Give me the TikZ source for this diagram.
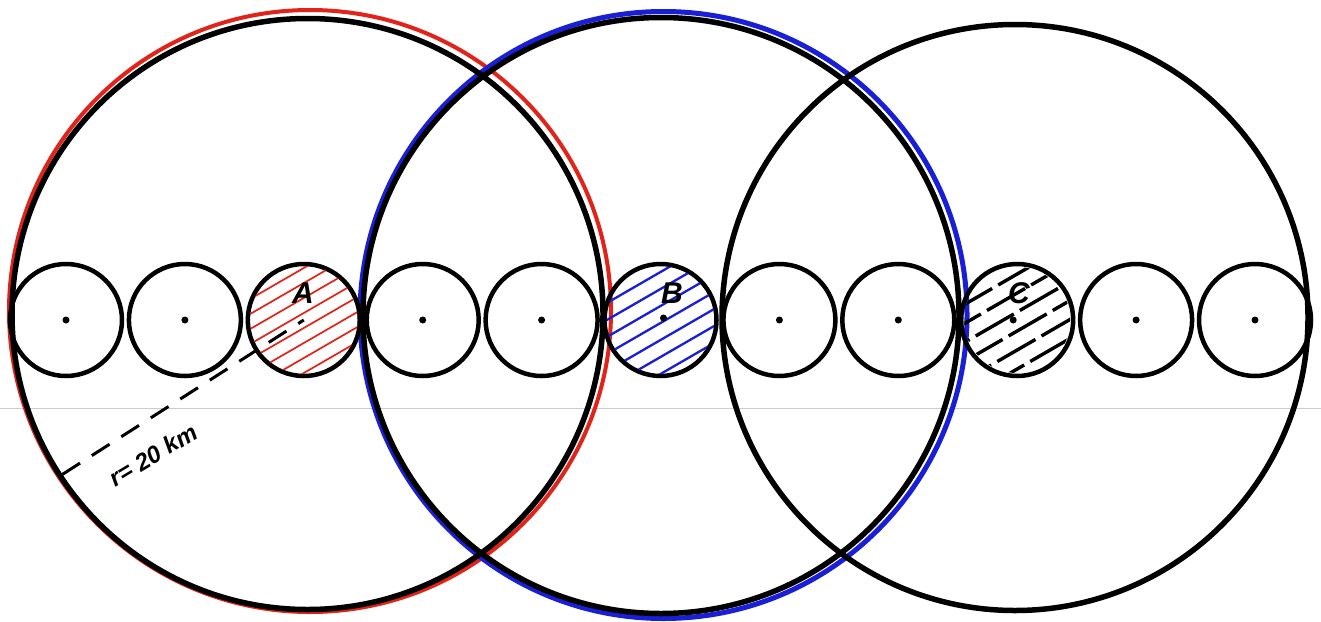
\documentclass[tikz,border=0pt]{standalone}
\usepackage{fontspec}
\setmainfont{Liberation Sans}
\usetikzlibrary{calc}
\definecolor{penred}{RGB}{225,35,25}
\definecolor{penblue}{RGB}{25,30,215}
\begin{document}
\begin{tikzpicture}[x=1pt,y=-1pt,
  big/.style={circle, draw, line width=5.5pt, inner sep=0pt},
  redring/.style={circle, draw=penred, line width=4pt, inner sep=0pt},
  bluering/.style={circle, draw=penblue, line width=5pt, inner sep=0pt},
  small/.style={circle, draw, line width=4.5pt, minimum size=112pt, inner sep=0pt},
  cdot/.style={circle, fill, inner sep=0pt, minimum size=7pt},
  lbl/.style={font=\fontsize{30}{30}\selectfont\bfseries\itshape},
  hatchA/.style={penred, line width=1.7pt},
  hatchB/.style={penblue, line width=2.3pt},
  hatchC/.style={black, line width=3.4pt, dash pattern=on 44pt off 7pt},
  radline/.style={line width=3pt, dash pattern=on 21pt off 14pt}]
\useasboundingbox (0,0) rectangle (1321,621);
\fill[white] (0,0) rectangle (1321,621);
\draw[gray!40, line width=1pt] (0,408) -- (1321,408);
% coloured rings
\node[redring, minimum size=602pt] (r1) at (310,311) {};
\node[bluering, minimum size=607pt] (b2) at (663.5,315) {};
% big circles
\node[big, minimum size=591pt] (c1) at (307.5,314) {};
\node[big, minimum size=596pt] (c2) at (661,315.5) {};
\node[big, minimum size=586pt] (c3) at (1015,317.5) {};
% small circles
\foreach \i in {1,...,11}
  \node[small] (s\i) at ({66+118.9*(\i-1)},320) {};
% hatching
\begin{scope}
  \clip (s3.center) circle[radius=54];
  \foreach \k in {-7,...,7}
    \draw[hatchA] ($(s3.center)+(-90,\k*15)$) -- ++(180,-104);
\end{scope}
\begin{scope}
  \clip (s6.center) circle[radius=54];
  \foreach \k in {-6,...,6}
    \draw[hatchB] ($(s6.center)+(-90,\k*17+4)$) -- ++(180,-104);
\end{scope}
\begin{scope}
  \clip (s9.center) circle[radius=53];
  \foreach \k in {-5,...,5}
    \draw[hatchC, dash phase={20+13*\k}] ($(s9.center)+(-90,\k*19+6)$) -- ++(180,-104);
\end{scope}
% centre dots
\foreach \i in {1,2,4,5,7,8,10,11}
  \node[cdot] (d\i) at (s\i.center) {};
\node[cdot] (d6) at ($(s6.center)+(3,-2)$) {};
\node[cdot] (d9) at ($(s9.center)+(-4,0)$) {};
% labels
\node[lbl] (la) at (303,293) {A};
\node[lbl] (lb) at (672,293) {B};
\node[lbl] (lc) at (1019,293) {C};
% radius
\coordinate (rend) at ($(c1.center)+(146.8:293)$);
\draw[radline] (rend) -- (s3.center);
\node[font=\fontsize{24}{24}\selectfont\bfseries\itshape, rotate=31] (rlab) at (153,455) {r= 20 km};
\end{tikzpicture}
\end{document}
